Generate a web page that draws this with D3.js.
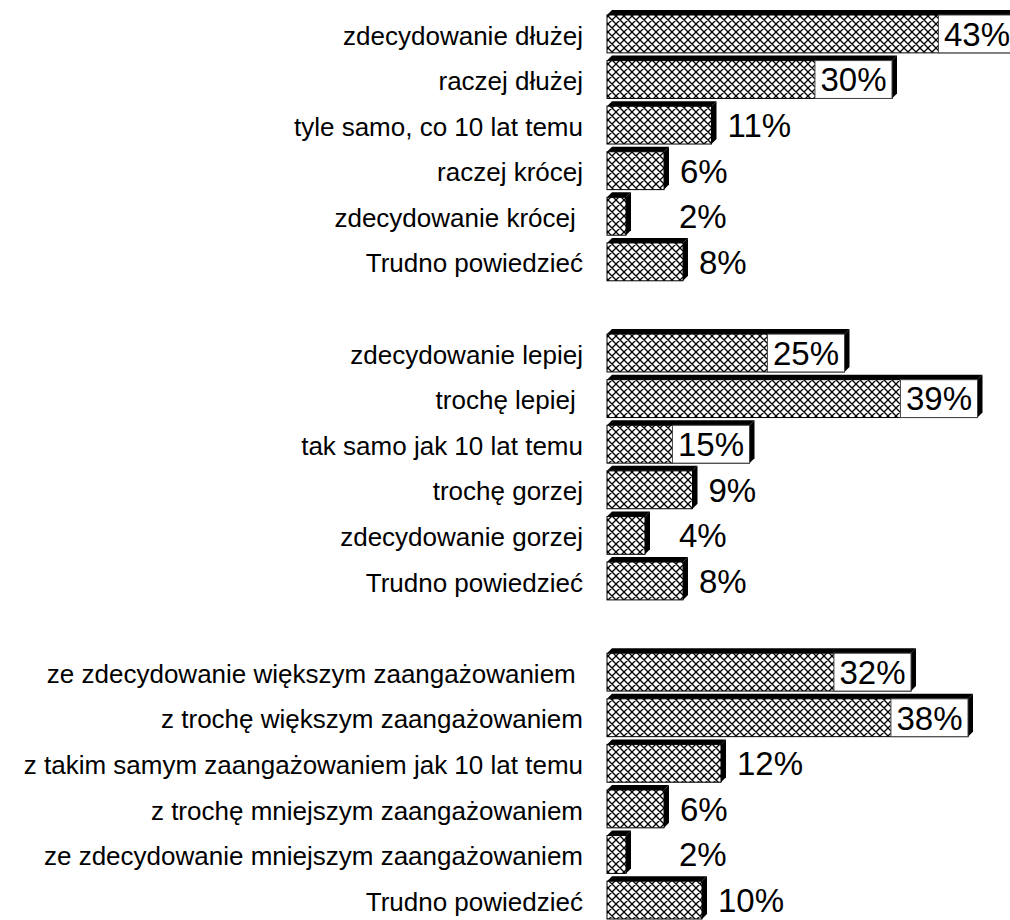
<!DOCTYPE html>
<html>
<head>
<meta charset="utf-8">
<title>Bar chart</title>
<script src="https://cdn.jsdelivr.net/npm/d3@7"></script>
<style>
  body { margin: 0; background: #fff; }
  text { font-family: "Liberation Sans", Arial, sans-serif; fill: #000; }
</style>
</head>
<body>
<div id="chart"></div>
<script>
// three question blocks, each with its answers and percentages
var labels1 = ["zdecydowanie dłużej", "raczej dłużej", "tyle samo, co 10 lat temu",
               "raczej krócej", "zdecydowanie krócej ", "Trudno powiedzieć"];
var values1 = [43, 30, 11, 6, 2, 8];

var labels2 = ["zdecydowanie lepiej", "trochę lepiej ", "tak samo jak 10 lat temu",
               "trochę gorzej", "zdecydowanie gorzej", "Trudno powiedzieć"];
var values2 = [25, 39, 15, 9, 4, 8];

var labels3 = ["ze zdecydowanie większym zaangażowaniem ", "z trochę większym zaangażowaniem",
               "z takim samym zaangażowaniem jak 10 lat temu", "z trochę mniejszym zaangażowaniem",
               "ze zdecydowanie mniejszym zaangażowaniem", "Trudno powiedzieć"];
var values3 = [32, 38, 12, 6, 2, 10];

var W = 1010, H = 920;

// flatten into slots, one empty slot between blocks
var rows = [];
[[labels1, values1], [labels2, values2], [labels3, values3]].forEach(function (g, gi) {
  g[0].forEach(function (l, i) { rows.push({ slot: rows.length + gi, label: l, value: g[1][i] }); });
});
var nSlots = rows.length + 2;

var svg = d3.select("#chart").append("svg")
  .attr("width", W).attr("height", H);

// cross hatch fill
var defs = svg.append("defs");
var pat = defs.append("pattern")
  .attr("id", "hatch")
  .attr("patternUnits", "userSpaceOnUse")
  .attr("width", 8).attr("height", 8);
pat.append("rect").attr("width", 8).attr("height", 8).attr("fill", "#fff");
pat.append("path")
  .attr("d", "M0,0L8,8M8,0L0,8M-2,6L2,10M6,-2L10,2M-2,2L2,-2M6,10L10,6")
  .attr("stroke", "#000").attr("stroke-width", 1.3);

var x = d3.scaleLinear().domain([0, 43]).range([607, 607 + 43 * 9.5]);
var y = d3.scaleBand().domain(d3.range(nSlots)).range([10, 919]).paddingInner(0.06);

var d = 5;               // 3d depth
var h = y.bandwidth();

var bar = svg.append("g").selectAll("g")
  .data(rows).enter().append("g");

// front face
bar.append("rect")
  .attr("x", x(0))
  .attr("y", function (r) { return y(r.slot) + d; })
  .attr("width", function (r) { return x(r.value) - x(0); })
  .attr("height", h - d)
  .attr("fill", "url(#hatch)")
  .attr("stroke", "#000").attr("stroke-width", 1);

// top face
bar.append("path")
  .attr("d", function (r) {
    var y0 = y(r.slot), x0 = x(0), x1 = x(r.value);
    return "M" + x0 + "," + (y0 + d) + "L" + (x0 + d) + "," + y0 + "L" + (x1 + d) + "," + y0 + "L" + x1 + "," + (y0 + d) + "Z";
  })
  .attr("fill", "#000");

// side face
bar.append("path")
  .attr("d", function (r) {
    var y0 = y(r.slot), x1 = x(r.value);
    return "M" + x1 + "," + (y0 + d) + "L" + (x1 + d) + "," + y0 + "L" + (x1 + d) + "," + (y0 + h - d) + "L" + x1 + "," + (y0 + h) + "Z";
  })
  .attr("fill", "#000");

// category labels
svg.append("g").selectAll("text")
  .data(rows).enter().append("text")
  .attr("x", 583)
  .attr("y", function (r) { return y(r.slot) + h / 2 + 4; })
  .attr("text-anchor", "end")
  .attr("dy", "0.35em")
  .style("white-space", "pre")
  .style("font-size", "26px")
  .text(function (r) { return r.label; });

// value labels: inside the end of long bars on a white box, outside for short ones
var inside = function (r) { return x(r.value) - x(0) > 130; };
var vl = svg.append("g").selectAll("g")
  .data(rows).enter().append("g");

vl.each(function (r) {
  var g = d3.select(this);
  var cy = y(r.slot) + d + (h - d) / 2;
  var t = g.append("text")
    .attr("y", cy)
    .attr("dy", "0.36em")
    .style("font-size", "33px")
    .text(r.value + "%");
  if (inside(r)) {
    var tw = t.node().getComputedTextLength();
    var bw = tw + 11;
    g.insert("rect", "text")
      .attr("x", x(r.value) - bw)
      .attr("y", y(r.slot) + d)
      .attr("width", bw)
      .attr("height", h - d)
      .attr("fill", "#fff")
      .attr("stroke", "#444").attr("stroke-width", 1);
    t.attr("x", x(r.value) - bw / 2).attr("text-anchor", "middle");
  } else {
    t.attr("x", Math.max(x(r.value) + 16, x(0) + 72));
  }
});
</script>
</body>
</html>
